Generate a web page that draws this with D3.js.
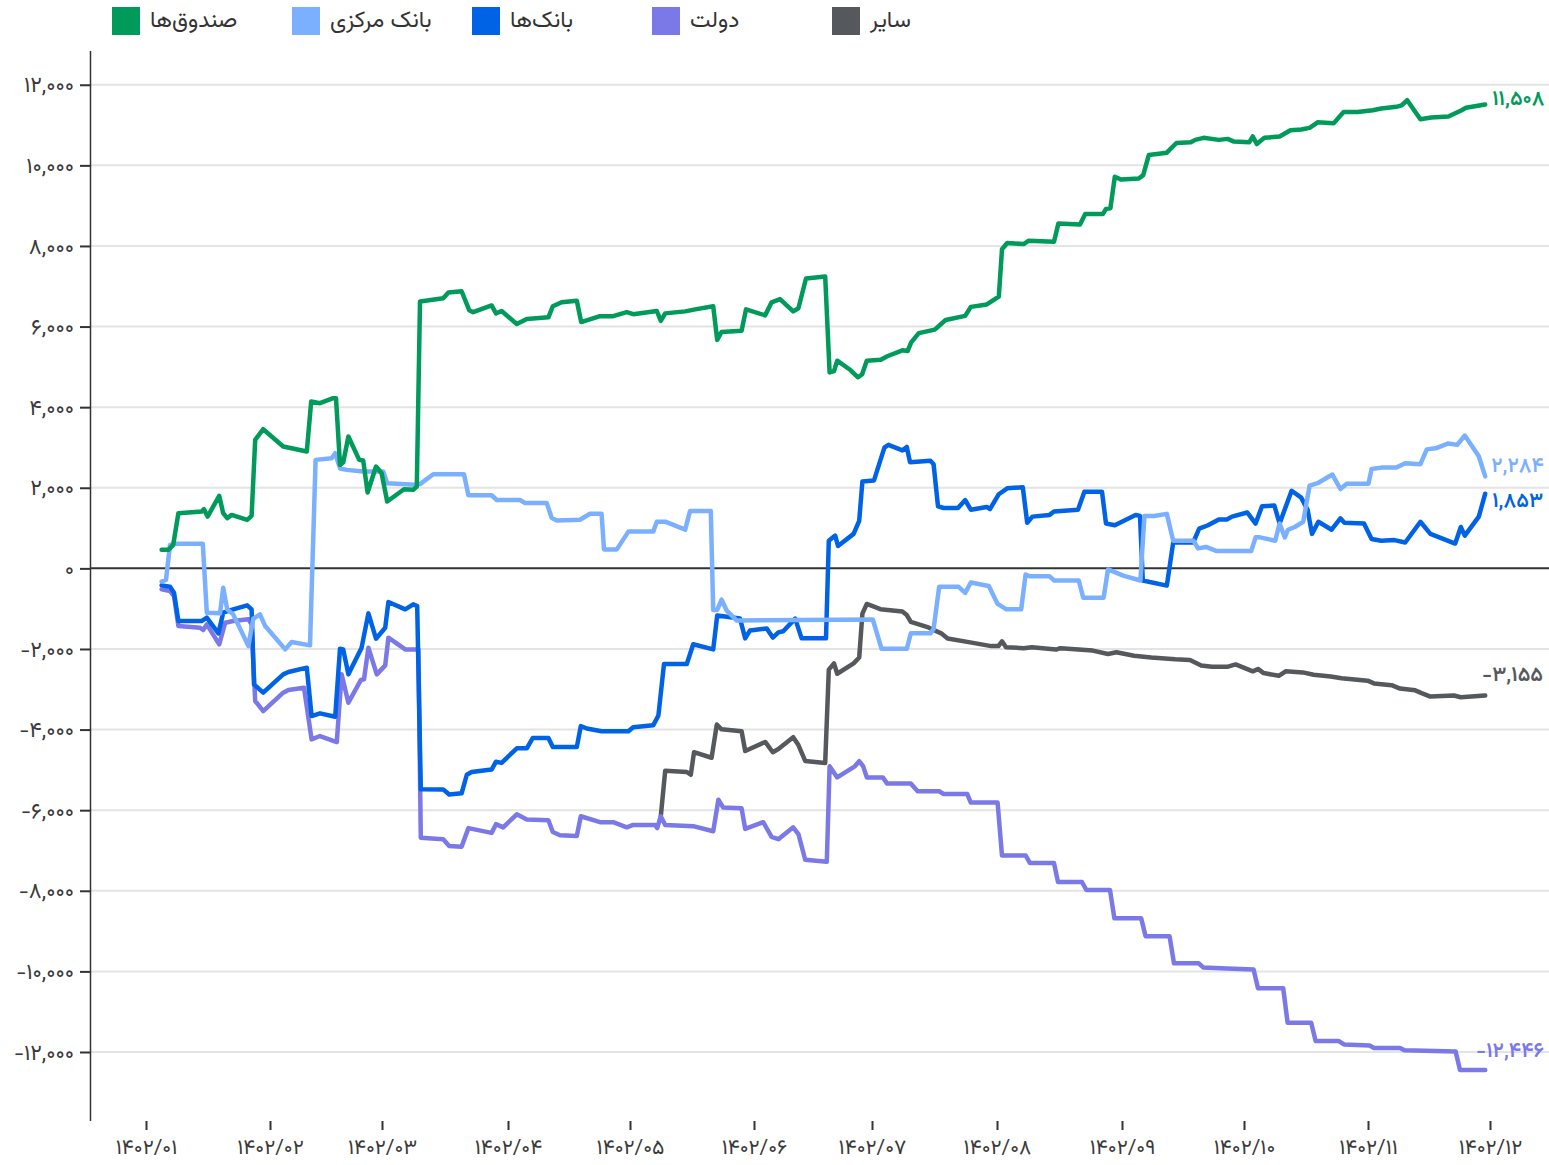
<!DOCTYPE html>
<html><head><meta charset="utf-8">
<script src="https://cdn.jsdelivr.net/npm/d3@7"></script>
<style>
body{margin:0;background:#fff;}
svg{display:block;font-family:Vazirmatn,"Noto Sans Arabic","DejaVu Sans",sans-serif;}
</style>
</head><body>
<svg id="chart" width="1549" height="1165"></svg>
<script>
// ---------- data ----------
const seriesNames = ["صندوق‌ها", "بانک مرکزی", "بانک‌ها", "دولت", "سایر"];
const seriesColors = ["#009a5b", "#7ab0ff", "#0063e6", "#7b78e8", "#55595d"];
const monthTicks = [0, 31, 59, 90.5, 121, 152, 181.5, 212.75, 244, 274.5, 305.5, 336];
const monthLabels = ["۱۴۰۲/۰۱","۱۴۰۲/۰۲","۱۴۰۲/۰۳","۱۴۰۲/۰۴","۱۴۰۲/۰۵","۱۴۰۲/۰۶","۱۴۰۲/۰۷","۱۴۰۲/۰۸","۱۴۰۲/۰۹","۱۴۰۲/۱۰","۱۴۰۲/۱۱","۱۴۰۲/۱۲"];
const yTicks = [-12000,-10000,-8000,-6000,-4000,-2000,0,2000,4000,6000,8000,10000,12000];

// [day position, cumulative value]
const fundsData = [[3.9,459],[5.6,459],[6.8,583],[8.1,1369],[13.9,1410],[14.5,1468],[15.4,1286],[18.3,1799],[19.3,1369],[20.3,1245],[21.4,1327],[25.3,1203],[26.4,1302],[27.3,3188],[29.3,3453],[34.3,3023],[35.2,3006],[40.2,2899],[41.3,4139],[43.5,4098],[46.8,4222],[47.5,4222],[48.5,2568],[49.3,2626],[50.6,3271],[53.3,2692],[54.3,2675],[55.4,1881],[57.5,2527],[58.9,2361],[60.3,1658],[64.5,1964],[66.8,1948],[67.7,2030],[68.5,6620],[74.3,6700],[75.6,6847],[78.9,6877],[80.8,6406],[81.8,6357],[86.4,6524],[87.5,6327],[88.9,6386],[92.7,6063],[95.2,6190],[100.6,6229],[101.7,6504],[103.9,6602],[107.7,6641],[108.8,6112],[113.5,6259],[116.8,6259],[120.2,6357],[121.8,6308],[127.7,6386],[128.7,6141],[129.8,6327],[134.8,6377],[137.3,6426],[141.8,6504],[142.8,5670],[143.9,5866],[148.9,5896],[150,6426],[154.8,6278],[156.4,6602],[158.5,6681],[161.8,6377],[163.1,6455],[165,7191],[169.8,7240],[170.9,4862],[172,4896],[172.8,5153],[176.1,4922],[178,4742],[179,4811],[180.2,5153],[183.7,5179],[185.3,5264],[189.1,5410],[190.4,5393],[191.3,5607],[193.2,5838],[197.2,5924],[199.9,6163],[204.8,6266],[206.2,6488],[210.2,6548],[213.2,6745],[214,7918],[215.3,8072],[219.4,8046],[220.7,8132],[227,8106],[228.1,8560],[233.5,8534],[234.8,8791],[239.2,8791],[240,8920],[241.1,8937],[242.2,9716],[243.8,9647],[248.2,9673],[249.3,9758],[250.7,10255],[255.2,10315],[257.6,10554],[261.2,10572],[262.3,10632],[264.4,10683],[268.2,10632],[270.4,10657],[272,10589],[275.8,10572],[276.7,10717],[277.7,10529],[279.6,10683],[283.4,10717],[286.1,10871],[288.8,10888],[290.9,10931],[292.9,11068],[296.9,11042],[299.4,11325],[302.9,11325],[306.7,11368],[308.8,11410],[312.6,11453],[313.9,11488],[315.3,11616],[318.6,11145],[321.3,11188],[325.6,11214],[328.9,11368],[330,11428],[334.8,11508]];

const centralBankData = [[3.9,-327],[5,-285],[6,583],[7.3,608],[14.2,608],[15.2,-1100],[18.5,-1116],[19.3,-480],[20.3,-1017],[21.8,-1141],[25.6,-1927],[26.8,-1250],[28.5,-1141],[29.8,-1431],[34.8,-2010],[36.4,-1828],[41,-1910],[42.4,2692],[46.4,2733],[47.3,2857],[48.5,2480],[50.2,2444],[54.3,2403],[59.3,2403],[60.3,2113],[67.3,2072],[68.5,2090],[71.8,2335],[79.5,2335],[80.6,1815],[86.4,1815],[87.7,1697],[93.5,1697],[94.8,1619],[100.2,1619],[101.4,1256],[102.7,1187],[108.5,1207],[111,1354],[113.9,1354],[114.5,471],[117.7,471],[120.6,912],[126.8,912],[127.7,1158],[129.8,1158],[134.8,961],[136,1422],[141.2,1422],[141.8,-1030],[142.8,-1030],[143.9,-775],[145.2,-1050],[147.7,-1295],[181.7,-1269],[183.9,-1997],[190.2,-1997],[191.2,-1612],[196.1,-1612],[196.9,-1500],[198.3,-454],[203.1,-454],[204.8,-609],[206.2,-351],[210.7,-437],[212.9,-883],[215,-1012],[218.8,-1012],[219.9,-154],[221,-197],[225.9,-197],[227,-300],[233.2,-300],[234.3,-729],[239.4,-729],[240.5,-26],[244.3,-180],[248.6,-300],[249.6,1301],[252,1301],[255.2,1352],[256.8,685],[261.9,685],[263,496],[265,531],[267.7,428],[276.3,428],[277.4,770],[278.5,770],[282.3,685],[283.4,1113],[284.7,770],[285.5,959],[287.2,1027],[289.3,1156],[290.9,2054],[293.1,2123],[296.6,2328],[298.6,1969],[300.2,2097],[305.6,2097],[306.4,2465],[308.8,2500],[312.6,2500],[314.8,2611],[318.6,2585],[320.2,2953],[322.4,2979],[325.6,3099],[327.8,3064],[329.7,3296],[333.2,2782],[334.8,2284]];

const banksData = [[3.9,-422],[6,-455],[7,-604],[8.1,-1307],[13.9,-1307],[15.2,-1224],[18.1,-1613],[19.3,-1100],[21.8,-1017],[25.3,-918],[26.4,-1017],[27,-2878],[29.3,-3085],[34.3,-2630],[35.6,-2572],[40.2,-2464],[41.4,-3664],[43.5,-3597],[47.3,-3680],[48.5,-1993],[49.3,-2010],[50.6,-2630],[53.9,-1968],[55.6,-1116],[57.5,-1745],[59.8,-1472],[60.6,-835],[64.8,-1017],[66.8,-893],[67.8,-935],[68.7,-5483],[74.3,-5484],[75.8,-5611],[78.9,-5582],[80.2,-5121],[81.4,-5052],[86.4,-4993],[87.5,-4797],[88.9,-4827],[92.7,-4464],[95.2,-4464],[96.7,-4208],[100.6,-4208],[101.7,-4434],[107.7,-4434],[108.7,-3914],[110.2,-3973],[113.9,-4042],[120.6,-4042],[121.8,-3944],[126.8,-3895],[128.1,-3649],[129.5,-2374],[135.2,-2374],[136.8,-1884],[141.8,-2011],[142.8,-1167],[148.5,-1246],[149.8,-1736],[151,-1540],[155.2,-1491],[156.7,-1717],[158.1,-1589],[159.3,-1560],[162.3,-1246],[163.9,-1736],[170,-1736],[170.7,685],[172.3,813],[173,556],[176.9,856],[178.3,1181],[179.1,2157],[182,2183],[184.6,2996],[185.6,3064],[189.1,2928],[190.2,3013],[191,2636],[196.1,2671],[196.9,2585],[198,1541],[199.4,1498],[203,1498],[204.8,1695],[206.2,1455],[210.2,1524],[211,1472],[213.2,1840],[215.3,1986],[219.2,2012],[220.3,1130],[221.6,1284],[225.9,1327],[227,1412],[233,1455],[234.6,1900],[239,1900],[240,1113],[242.2,1070],[247.4,1327],[248.5,1301],[249.2,-300],[255.2,-428],[256.8,642],[261.8,642],[263.3,984],[265.5,1070],[268.2,1215],[270.2,1215],[271.5,1284],[275.3,1387],[277.4,1113],[279,1541],[282.1,1558],[283.4,1113],[286.4,1926],[288.8,1755],[290.4,1455],[291.5,856],[293.1,1156],[296.4,959],[298.6,1241],[299.6,1130],[304.5,1113],[306.4,728],[308.8,685],[312.1,702],[314.8,642],[318.6,1156],[321.1,856],[327.3,616],[328.7,1027],[329.7,813],[333.2,1284],[334.8,1853]];

const governmentData = [[3.9,-521],[6,-562],[7,-686],[8.1,-1431],[13.5,-1472],[14.3,-1530],[15.2,-1389],[18.3,-1886],[19.8,-1348],[21.8,-1307],[25.6,-1265],[26.4,-1389],[27.3,-3291],[29.3,-3540],[34.3,-3085],[35.6,-3019],[39.5,-2961],[41.4,-4243],[43.5,-4160],[47.7,-4309],[48.9,-2630],[50.6,-3333],[53.7,-2771],[54.5,-2754],[55.6,-1968],[57.7,-2630],[59.8,-2407],[60.6,-1720],[64.8,-2010],[68.1,-2010],[68.7,-6682],[74.3,-6720],[75.8,-6887],[78.9,-6906],[80.6,-6445],[86.4,-6563],[87.5,-6347],[89.3,-6426],[92.7,-6102],[95.2,-6229],[100.6,-6249],[101.7,-6543],[103.5,-6622],[107.7,-6641],[108.7,-6151],[113.5,-6298],[116.8,-6298],[120.2,-6426],[121.8,-6367],[127.3,-6367],[127.8,-6445],[128.7,-6151],[129.8,-6367],[136.8,-6396],[141.8,-6524],[143.1,-5739],[144.3,-5935],[148.9,-5955],[149.8,-6465],[154.3,-6298],[156.4,-6661],[158.1,-6720],[161.8,-6426],[163.1,-6592],[164.8,-7230],[170.2,-7279],[170.9,-4912],[172.8,-5187],[177.2,-4912],[178.3,-4784],[179.3,-4912],[180.2,-5187],[184.2,-5187],[185.3,-5341],[191.2,-5341],[192.9,-5530],[198.3,-5530],[199.4,-5598],[205.3,-5598],[206.2,-5812],[212.9,-5812],[214,-7124],[219.9,-7124],[221,-7313],[227,-7313],[228,-7784],[234,-7784],[235.1,-7981],[241,-7981],[242.1,-8684],[248.8,-8684],[249.9,-9130],[255.9,-9130],[257,-9799],[263.2,-9799],[264.3,-9902],[270.2,-9927],[276.9,-9953],[278,-10416],[284.3,-10416],[285.4,-11274],[291.3,-11274],[292.4,-11728],[298.2,-11728],[299.5,-11814],[305.9,-11840],[307,-11900],[313.5,-11900],[314.6,-11959],[327.4,-11985],[328.5,-12446],[334.8,-12446]];

const othersData = [[128.7,-6151],[129.8,-5023],[135.2,-5052],[136.2,-5121],[137,-4562],[141.4,-4699],[142.7,-3875],[143.9,-3993],[148.9,-4042],[149.8,-4532],[154.8,-4307],[156.7,-4562],[158.1,-4483],[161.8,-4189],[163.1,-4385],[164.8,-4778],[169.8,-4827],[170.7,-2512],[172,-2358],[172.8,-2615],[176.9,-2358],[178.3,-2212],[179.1,-1123],[180.2,-883],[183.6,-1012],[189.1,-1072],[190.2,-1157],[191.2,-1329],[195.6,-1466],[198.8,-1612],[200.4,-1740],[206.4,-1843],[211.3,-1929],[213.1,-1929],[214,-1809],[215,-1955],[219.4,-1980],[221.5,-1955],[227.5,-2015],[228.6,-1980],[236.7,-2040],[240.5,-2126],[242.6,-2083],[247,-2169],[251.3,-2212],[257.3,-2255],[261,-2272],[263.8,-2409],[266.5,-2443],[270.3,-2443],[272.4,-2383],[276.7,-2555],[278,-2495],[279.4,-2598],[283.2,-2666],[284.9,-2555],[289.2,-2581],[291.9,-2641],[296.2,-2683],[298.9,-2726],[305.4,-2786],[307,-2855],[311.4,-2898],[313.5,-2983],[317.3,-3026],[318.9,-3095],[321.1,-3181],[327,-3155],[328.7,-3198],[334.8,-3155]];

const seriesData = [fundsData, centralBankData, banksData, governmentData, othersData];

// ---------- layout / style ----------
const W = 1549, H = 1165;
const axisX = 90;
const FONT = "Vazirmatn, 'Noto Sans Arabic', 'DejaVu Sans', sans-serif";
const labelDx = [7, 6, 7, -9, -3];
const labelDy = [-5, -10, 8, -19, -20];

const faDigits = "۰۱۲۳۴۵۶۷۸۹";
const toFa = s => String(s).replace(/[0-9]/g, d => faDigits[+d]);
const fmt = d3.format(",");

const svg = d3.select("#chart");

const x = d3.scaleLinear().domain([0, 336]).range([146, 1490]);
const y = d3.scaleLinear().domain([-13700, 12850]).range([1120.5, 50.5]);

// grid lines
svg.append("g").selectAll("line")
  .data(yTicks.filter(v => v !== 0))
  .join("line")
  .attr("x1", axisX).attr("x2", W)
  .attr("y1", d => y(d)).attr("y2", d => y(d))
  .attr("stroke", "#e4e4e4").attr("stroke-width", 2);

// y axis
const yAxis = svg.append("g")
  .attr("transform", `translate(${axisX},0)`)
  .call(d3.axisLeft(y).tickValues(yTicks).tickSize(10).tickSizeOuter(0).tickPadding(6)
    .tickFormat(d => toFa(fmt(d))));
yAxis.select(".domain").attr("stroke", "#333").attr("stroke-width", 1.5);
yAxis.selectAll(".tick line").attr("stroke", "#333").attr("stroke-width", 2);
yAxis.selectAll(".tick text").attr("fill", "#3a3a3a").attr("font-size", 22)
  .attr("font-family", FONT);

// zero line
svg.append("line")
  .attr("x1", axisX).attr("x2", W)
  .attr("y1", y(0)).attr("y2", y(0))
  .attr("stroke", "#333").attr("stroke-width", 2);

// x axis
const xAxis = svg.append("g")
  .attr("transform", `translate(0,1121)`)
  .call(d3.axisBottom(x).tickValues(monthTicks).tickSize(9).tickPadding(9)
    .tickFormat((d, i) => monthLabels[i]));
xAxis.select(".domain").remove();
xAxis.selectAll(".tick line").attr("stroke", "#333").attr("stroke-width", 2);
xAxis.selectAll(".tick text").attr("fill", "#3a3a3a").attr("font-size", 21)
  .attr("font-family", FONT);

// lines (drawn from last series to first so funds sit on top)
const line = d3.line().x(d => x(d[0])).y(d => y(d[1]));
const order = [4, 3, 2, 1, 0];
svg.append("g").selectAll("path")
  .data(order)
  .join("path")
  .attr("d", i => line(seriesData[i]))
  .attr("fill", "none")
  .attr("stroke", i => seriesColors[i])
  .attr("stroke-width", 4.5)
  .attr("stroke-linejoin", "round")
  .attr("stroke-linecap", "round");

// end labels
svg.append("g").selectAll("text")
  .data(order)
  .join("text")
  .attr("x", i => x(seriesData[i][seriesData[i].length - 1][0]) + labelDx[i])
  .attr("y", i => y(seriesData[i][seriesData[i].length - 1][1]) + labelDy[i])
  .attr("dominant-baseline", "middle")
  .attr("font-size", 21)
  .attr("font-weight", 600)
  .attr("fill", i => seriesColors[i])
  .text(i => toFa(fmt(seriesData[i][seriesData[i].length - 1][1])));

// legend
const leg = svg.append("g").selectAll("g")
  .data(seriesNames)
  .join("g")
  .attr("transform", (d, i) => `translate(${112 + i * 180},7)`);
leg.append("rect").attr("width", 28).attr("height", 28)
  .attr("fill", (d, i) => seriesColors[i]);
leg.append("text").attr("x", 38).attr("y", 14)
  .attr("dominant-baseline", "middle")
  .attr("font-size", 23).attr("fill", "#333")
  .text(d => d);
</script>
</body></html>
